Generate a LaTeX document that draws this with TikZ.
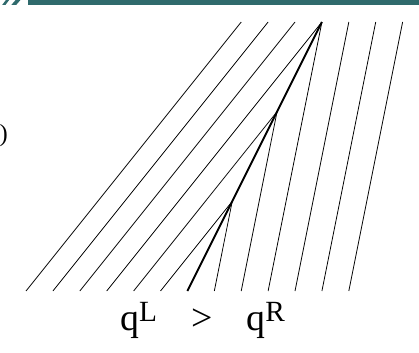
\documentclass[tikz,border=0pt]{standalone}
\usepackage{fontspec}
\setmainfont{Liberation Serif}
\usetikzlibrary{positioning}

\definecolor{bannerteal}{HTML}{2F6A6C}
\newcommand{\upidx}[1]{\raisebox{0.22em}{\fontsize{31}{33}\selectfont #1}}

\begin{document}
\begin{tikzpicture}[
    charline/.style={draw=black, line width=0.8pt},
    shock/.style={draw=black, line width=2pt},
    banner/.style={fill=bannerteal, draw=none},
    label/.style={font=\fontsize{40}{46}\selectfont, inner sep=0pt},
]
\useasboundingbox (0,0) rectangle (15.576,13.086);

% Slide banner
\fill[banner] (1.04,12.90) rectangle (15.576,13.086);
\fill[banner] (0.08,12.90) -- (0.20,12.90) -- (0.34,13.086) -- (0.22,13.086) -- cycle;
\fill[banner] (0.42,12.90) -- (0.60,12.90) -- (0.76,13.086) -- (0.58,13.086) -- cycle;
\node[font=\fontsize{26}{30}\selectfont, inner sep=0pt, anchor=east] (frag) at (0.30,8.03) {)};

% Foot points of the characteristics
\foreach \i in {0,...,12}
    \coordinate (b\i) at (0.967+\i,2.268);

% Upper ends
\coordinate (t0) at (8.967,12.268);
\coordinate (t1) at (9.967,12.268);
\coordinate (t2) at (10.967,12.268);
\coordinate (apex) at (11.967,12.268);
\coordinate (t10) at (12.967,12.268);
\coordinate (t11) at (13.967,12.268);
\coordinate (t12) at (14.967,12.268);

% Kinks on the shock
\coordinate (k1) at (8.633,5.601);
\coordinate (k2) at (10.300,8.935);

% Left state characteristics
\draw[charline] (b0) -- (t0);
\draw[charline] (b1) -- (t1);
\draw[charline] (b2) -- (t2);
\draw[charline] (b3) -- (apex);
\draw[charline] (b4) -- (k2);
\draw[charline] (b5) -- (k1);

% Right state characteristics
\draw[charline] (b7) -- (k1);
\draw[charline] (b8) -- (k2);
\draw[charline] (b9) -- (apex);
\draw[charline] (b10) -- (t10);
\draw[charline] (b11) -- (t11);
\draw[charline] (b12) -- (t12);

% Shock
\draw[shock] (b6) -- (k1) -- (k2) -- (apex);

% Label
\node[label, anchor=base] (states) at (7.53,0.818)
    {q\upidx{L}\hspace{0.9em}>\hspace{0.9em}q\upidx{R}};

\end{tikzpicture}
\end{document}
